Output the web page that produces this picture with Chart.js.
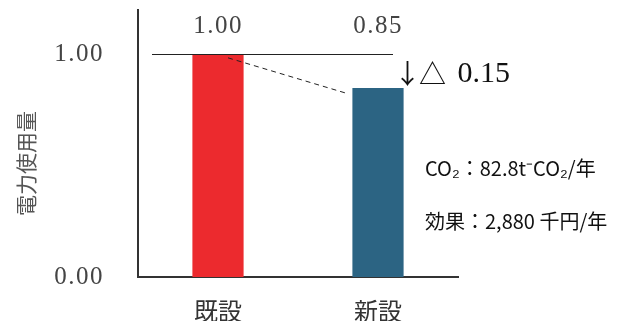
<!DOCTYPE html>
<html><head><meta charset="utf-8">
<script src="https://cdn.jsdelivr.net/npm/chart.js@4"></script>
<style>html,body{margin:0;padding:0;background:#fff}#wrap{width:643px;height:321px}</style>
</head><body><div id="wrap"><canvas id="c" width="643" height="321"></canvas></div>
<script>
const categories = ['既設', '新設'];
const usage = [1.00, 0.85];
const valueLabels = ['1.00', '0.85'];
const yTickValues = [0, 1];
const yTickLabels = ['0.00', '1.00'];
const yTitle = '電力使用量';
const barColors = ['#EC2A2E', '#2C6483'];
const reductionLabel = '↓△ 0.15';
const notes = ['CO₂：82.8t⁻CO₂/年', '効果：2,880 千円/年'];

const serif = '"Liberation Serif", "DejaVu Serif", serif';
const cjk = '"Noto Sans CJK JP", sans-serif';

const annot = {
  id: 'annot',
  afterDatasetsDraw(chart) {
    const {ctx} = chart;
    const xs = chart.scales.x, ys = chart.scales.y;
    const x0 = xs.getPixelForValue(0), x1 = xs.getPixelForValue(1);
    const yTop = ys.getPixelForValue(usage[0]);
    ctx.save();
    // y title
    ctx.save();
    ctx.translate(chart.chartArea.left - 112, ys.getPixelForValue(0.51));
    ctx.rotate(-Math.PI / 2);
    ctx.fillStyle = '#555'; ctx.font = '21px ' + cjk;
    ctx.textAlign = 'center'; ctx.textBaseline = 'middle';
    ctx.fillText(yTitle, 0, 0);
    ctx.restore();
    // y tick labels
    ctx.fillStyle = '#444'; ctx.font = '25px ' + serif;
    ctx.textAlign = 'right'; ctx.textBaseline = 'middle';
    ctx.letterSpacing = '1.5px';
    yTickValues.forEach((v, i) => ctx.fillText(yTickLabels[i], chart.chartArea.left - 34, ys.getPixelForValue(v)));
    // reference line at 1.00
    ctx.strokeStyle = '#222'; ctx.lineWidth = 1.2;
    ctx.beginPath(); ctx.moveTo(x0 - 66, yTop); ctx.lineTo(x1 + 15, yTop); ctx.stroke();
    // dashed slope
    ctx.setLineDash([5, 4]); ctx.lineWidth = 1;
    ctx.beginPath();
    ctx.moveTo(x0 + 10, ys.getPixelForValue(0.985));
    ctx.lineTo(x1 - 31, ys.getPixelForValue(0.825));
    ctx.stroke();
    ctx.setLineDash([]);
    // value labels
    ctx.fillStyle = '#444'; ctx.font = '25px ' + serif;
    ctx.textAlign = 'center';
    const yl = ys.getPixelForValue(1.125);
    ctx.fillText(valueLabels[0], x0, yl);
    ctx.fillText(valueLabels[1], x1, yl);
    // reduction label (symbols in CJK font, digits in serif)
    ctx.letterSpacing = '0px';
    ctx.fillStyle = '#111'; ctx.textAlign = 'left';
    let cx = x1 + 16;
    const cy = ys.getPixelForValue(0.912);
    for (const ch of reductionLabel) {
      const sym = ch.charCodeAt(0) > 0x2000;
      ctx.font = sym ? '27px ' + cjk : '30px ' + serif;
      ctx.fillText(ch, cx, cy);
      cx += ctx.measureText(ch).width + (sym ? -2 : 0) + (ch === ' ' ? 6 : 0);
    }
    // notes
    ctx.font = '20px ' + cjk;
    ctx.fillText(notes[0], x1 + 47, ys.getPixelForValue(0.49));
    ctx.fillText(notes[1], x1 + 47, ys.getPixelForValue(0.252));
    ctx.restore();
  }
};

new Chart(document.getElementById('c'), {
  type: 'bar',
  data: {
    labels: categories,
    datasets: [{ data: usage, backgroundColor: barColors, barPercentage: 0.32, categoryPercentage: 1.0 }]
  },
  options: {
    responsive: false, animation: false,
    layout: { padding: { top: 10, right: 185, bottom: 0, left: 0 } },
    plugins: { legend: { display: false }, tooltip: { enabled: false } },
    scales: {
      x: {
        grid: { display: false, drawTicks: false },
        border: { display: true, color: '#333', width: 2 },
        ticks: { color: '#333', font: { family: cjk, size: 24 }, padding: 19 },
        afterFit(s) { s.height = 44; s.paddingLeft = 0; s.paddingRight = 0; }
      },
      y: {
        min: 0, max: 1.2,
        grid: { display: false, drawTicks: false },
        border: { display: true, color: '#333', width: 2 },
        afterBuildTicks(s) { s.ticks = yTickValues.map(v => ({ value: v })); },
        ticks: { display: false },
        title: { display: false },
        afterFit(s) { s.width = 138; s.paddingTop = 0; s.paddingBottom = 0; }
      }
    }
  },
  plugins: [annot]
});
</script></body></html>
